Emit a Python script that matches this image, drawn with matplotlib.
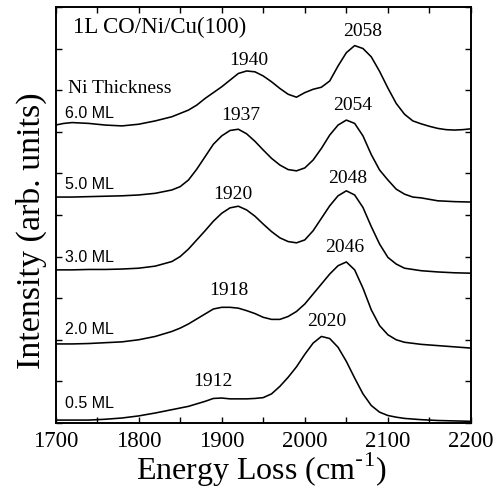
import matplotlib
matplotlib.use("Agg")
import matplotlib.pyplot as plt
from matplotlib.ticker import MultipleLocator

# ---- data ----
e_05 = [1700, 1720, 1740, 1760, 1780, 1800, 1820, 1840, 1860, 1870, 1880, 1890, 1900, 1910, 1920,
        1930, 1940, 1950, 1960, 1970, 1980, 1990, 2000, 2010, 2020, 2030, 2040, 2050, 2060, 2070,
        2080, 2090, 2100, 2110, 2120, 2140, 2160, 2180, 2200]
i_05 = [0.07, 0.07, 0.07, 0.09, 0.12, 0.17, 0.24, 0.32, 0.40, 0.46, 0.52, 0.59, 0.60, 0.58, 0.58,
        0.58, 0.59, 0.61, 0.70, 0.88, 1.10, 1.35, 1.65, 1.92, 2.08, 2.03, 1.82, 1.48, 1.08, 0.70,
        0.42, 0.26, 0.18, 0.14, 0.11, 0.08, 0.06, 0.05, 0.04]

e_20 = [1700, 1720, 1740, 1760, 1780, 1800, 1820, 1840, 1850, 1860, 1870, 1880, 1890, 1900, 1910,
        1920, 1930, 1940, 1950, 1960, 1970, 1980, 1990, 2000, 2010, 2020, 2030, 2040, 2050, 2060,
        2070, 2080, 2090, 2100, 2110, 2120, 2140, 2160, 2180, 2200]
i_20 = [1.90, 1.90, 1.91, 1.93, 1.95, 2.00, 2.08, 2.20, 2.28, 2.38, 2.50, 2.62, 2.74, 2.78, 2.78,
        2.76, 2.70, 2.63, 2.54, 2.49, 2.49, 2.56, 2.68, 2.86, 3.10, 3.34, 3.58, 3.78, 3.87, 3.68,
        3.24, 2.72, 2.34, 2.12, 2.00, 1.94, 1.89, 1.86, 1.83, 1.80]

e_30 = [1700, 1720, 1740, 1760, 1780, 1800, 1820, 1840, 1850, 1860, 1870, 1880, 1890, 1900, 1910,
        1920, 1930, 1940, 1950, 1960, 1970, 1980, 1990, 2000, 2010, 2020, 2030, 2040, 2050, 2060,
        2070, 2080, 2090, 2100, 2110, 2120, 2140, 2160, 2180, 2200]
i_30 = [3.68, 3.68, 3.69, 3.69, 3.70, 3.72, 3.77, 3.88, 4.00, 4.18, 4.40, 4.62, 4.85, 5.04, 5.17,
        5.21, 5.12, 4.97, 4.78, 4.60, 4.45, 4.36, 4.33, 4.40, 4.62, 4.92, 5.22, 5.46, 5.58, 5.48,
        5.18, 4.72, 4.30, 3.98, 3.82, 3.72, 3.66, 3.63, 3.61, 3.60]

e_50 = [1700, 1720, 1740, 1760, 1780, 1800, 1820, 1840, 1850, 1860, 1870, 1880, 1890, 1900, 1910,
        1920, 1930, 1940, 1950, 1960, 1970, 1980, 1990, 2000, 2010, 2020, 2030, 2040, 2050, 2060,
        2070, 2080, 2090, 2100, 2110, 2120, 2130, 2140, 2160, 2180, 2200]
i_50 = [5.43, 5.43, 5.44, 5.45, 5.46, 5.48, 5.52, 5.60, 5.68, 5.84, 6.10, 6.40, 6.70, 6.90, 7.03,
        7.06, 6.95, 6.77, 6.56, 6.36, 6.20, 6.09, 6.06, 6.13, 6.32, 6.60, 6.92, 7.16, 7.28, 7.20,
        6.90, 6.45, 6.08, 5.84, 5.62, 5.50, 5.43, 5.41, 5.34, 5.32, 5.31]

e_60 = [1700, 1710, 1720, 1740, 1760, 1780, 1800, 1820, 1840, 1860, 1870, 1880, 1890, 1900, 1910,
        1920, 1930, 1940, 1950, 1960, 1970, 1980, 1990, 2000, 2010, 2020, 2030, 2040, 2050, 2060,
        2070, 2080, 2090, 2100, 2110, 2120, 2130, 2140, 2150, 2160, 2170, 2180, 2190, 2200]
i_60 = [7.16, 7.20, 7.22, 7.20, 7.16, 7.14, 7.18, 7.26, 7.36, 7.52, 7.64, 7.80, 7.94, 8.08, 8.24,
        8.40, 8.46, 8.44, 8.34, 8.20, 8.04, 7.90, 7.83, 7.94, 8.02, 8.07, 8.22, 8.58, 8.90, 9.07,
        9.00, 8.80, 8.45, 8.05, 7.68, 7.42, 7.26, 7.19, 7.13, 7.08, 7.05, 7.04, 7.05, 7.07]

thickness_labels = ["0.5 ML", "2.0 ML", "3.0 ML", "5.0 ML", "6.0 ML"]
thickness_label_y = [0.47, 2.24, 3.98, 5.72, 7.44]

peak_labels = ["1912", "2020", "1918", "2046", "1920", "2048", "1937", "2054", "1940", "2058"]
peak_label_x = [1890, 2027, 1908, 2048, 1914, 2052, 1923, 2057, 1933, 2069]
peak_label_y = [1.00, 2.44, 3.18, 4.21, 5.48, 5.88, 7.40, 7.62, 8.71, 9.41]

x_ticks = [1700, 1800, 1900, 2000, 2100, 2200]

# ---- plot ----
serif = ["Liberation Serif", "DejaVu Serif"]
sans = ["Liberation Sans", "DejaVu Sans"]

fig = plt.figure(figsize=(5.0, 4.93), dpi=100)
ax = fig.add_axes([0.111, 0.142, 0.831, 0.844])

for e, i in [(e_05, i_05), (e_20, i_20), (e_30, i_30), (e_50, i_50), (e_60, i_60)]:
    ax.plot(e, i, color="black", lw=1.15, solid_joinstyle="round")

ax.set_xlim(1700, 2200)
ax.set_ylim(0, 10)
ax.set_xticks(x_ticks)
ax.xaxis.set_minor_locator(MultipleLocator(50))
ax.yaxis.set_major_locator(MultipleLocator(1))
ax.set_yticklabels([])
ax.tick_params(which="both", direction="in", top=True, right=True, length=4.5, width=1.0,
               labelsize=16.5, pad=6)
for lab in ax.get_xticklabels():
    lab.set_fontfamily(serif)
for sp in ax.spines.values():
    sp.set_linewidth(1.4)

fig.text(0.523, 1 - 480 / 493, "Energy Loss (cm$^{\\mathregular{\\text{-}1}}$)", fontsize=23,
         family=serif, ha="center", va="baseline")
fig.text(31 / 500, 1 - 230.5 / 493, "Intensity (arb. units)", fontsize=24.5, family=serif,
         rotation=90, ha="center", va="center")

ax.text(1721, 9.5, "1L CO/Ni/Cu(100)", fontsize=16.5, family=serif, va="center", ha="left")
ax.text(1715, 8.05, "Ni Thickness", fontsize=14, family=serif, va="center", ha="left")

for lab, y in zip(thickness_labels, thickness_label_y):
    ax.text(1711, y, lab, fontsize=11.5, family=sans, va="center", ha="left")

for lab, x, y in zip(peak_labels, peak_label_x, peak_label_y):
    ax.text(x, y, lab, fontsize=14, family=serif, va="center", ha="center")

fig.savefig("out.png", dpi=100)
